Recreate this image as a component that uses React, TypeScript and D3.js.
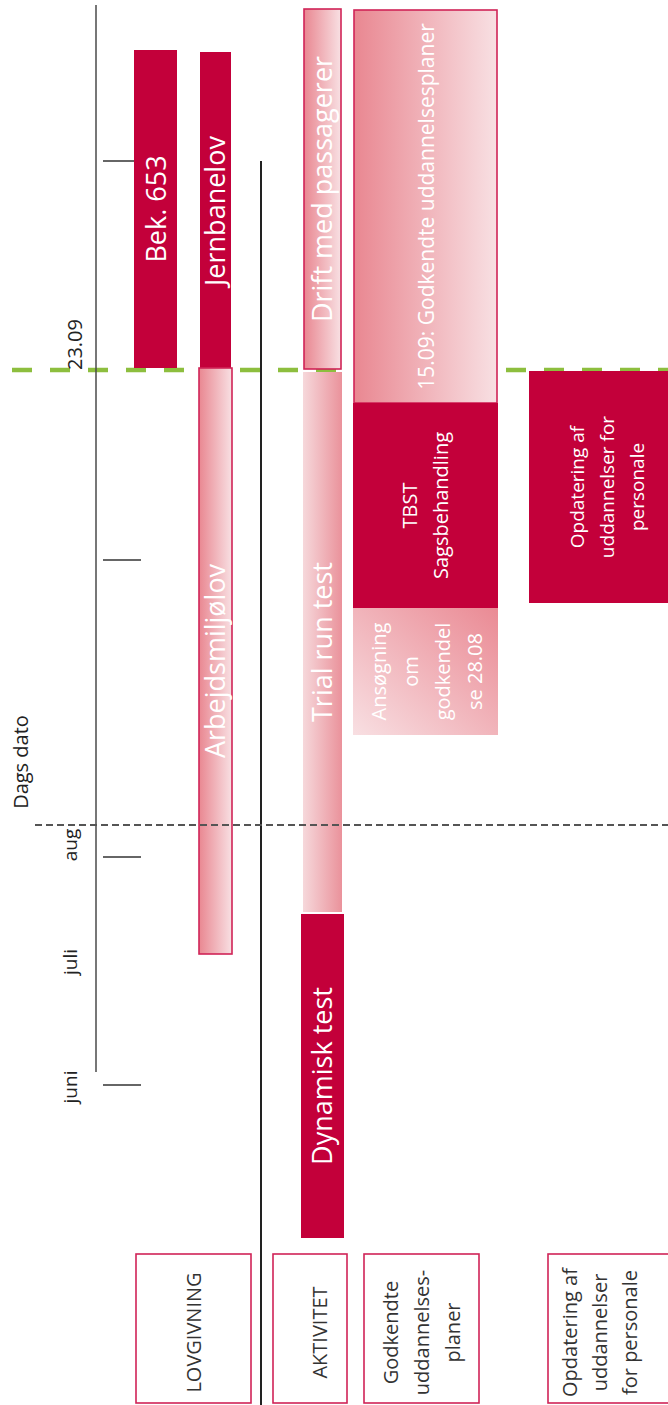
import React from "react";
import * as d3 from "d3";

// ---------------- DATA ----------------
// Time is an abstract schedule position (the reference timeline is schematic)
const monthLabels = ["juni", "juli", "aug"];
const monthLabelPos = [15.8, 28.3, 40.0];
const tickPos = [16.0, 38.8, 68.5, 108.4];
const axisExtent = [17.3, 124.0];

const milestoneLabel = "23.09";
const milestonePos = 87.5;
const todayLabel = "Dags dato";
const todayPos = 42.0;

const laneKeys = ["bek", "jern", "akt", "godk", "opd"];

const taskNames = [
  "Bek. 653",
  "Jernbanelov",
  "Arbejdsmiljølov",
  "Drift med passagerer",
  "Trial run test",
  "Dynamisk test",
  "15.09: Godkendte uddannelsesplaner",
  "TBST\nSagsbehandling",
  "Ansøgning\nom\ngodkendel\nse 28.08",
  "Opdatering af\nuddannelser for\npersonale",
];
const taskLane = ["bek", "jern", "jern", "akt", "akt", "akt", "godk", "godk", "godk", "opd"];
const taskStart = [87.7, 87.5, 29.1, 87.6, 33.3, 0.7, 84.2, 63.7, 51.0, 64.2];
const taskEnd = [119.5, 119.3, 87.7, 123.6, 87.3, 33.1, 123.5, 84.2, 63.7, 87.4];
const taskKind = ["solid", "solid", "fadeLR", "fadeLR", "fadeRL", "solid", "fadeLR", "solid", "fadeDiag", "solid"];

const headerNames = ["LOVGIVNING", "AKTIVITET", "Godkendte\nuddannelses-\nplaner", "Opdatering af\nuddannelser\nfor personale"];

// ---------------- LAYOUT / STYLE ----------------
const W = 668;
const H = 1405;
const FONT = "'Open Sans', 'Noto Sans', sans-serif";
const CRIMSON = "#C3003A";
const EDGE = "#D02457";

const laneSpans: [number, number][] = [
  [134, 177],
  [199, 232],
  [302, 343],
  [353, 498],
  [529, 686],
];
const taskFont = [27, 27, 27, 27, 27, 27, 21, 20, 20, 19];
const taskLineH = [0, 0, 0, 0, 0, 0, 0, 31, 32, 30];
const taskInset = [0, 1, 0, 2, 1, -1, 1, 0, 0, 0];
const taskTextDx = [1, 0, 0, 0, 0, 0, 1, 0, 1, 0];

const headerBoxes: [number, number][] = [
  [136, 251],
  [273, 347],
  [364, 479],
  [548, 720],
];
const headerTextX = [193.5, 319.5, 421.5, 600];
const headerTop = 1254;
const headerBottom = 1403;
const headerLineH = [0, 0, 31, 30];

function RotText(props: {
  cx: number;
  cy: number;
  text: string;
  size: number;
  lh?: number;
  fill: string;
  anchor?: string;
}) {
  const lines = props.text.split("\n");
  const n = lines.length;
  const lh = props.lh || props.size * 1.2;
  return (
    <text
      transform={`translate(${props.cx},${props.cy}) rotate(-90)`}
      textAnchor={props.anchor || "middle"}
      fontSize={props.size}
      fontFamily={FONT}
      fill={props.fill}
    >
      {lines.map((l, i) => (
        <tspan key={i} x={0} y={(i - (n - 1) / 2) * lh} dy="0.35em">
          {l}
        </tspan>
      ))}
    </text>
  );
}

export default function App() {
  const y = d3.scaleLinear().domain([0, 125]).range([1245, -5]);
  const laneX = d3.scaleOrdinal<string, [number, number]>().domain(laneKeys).range(laneSpans);

  const fillFor = (k: string) =>
    k === "solid" ? CRIMSON : k === "fadeLR" ? "url(#fadeLR)" : k === "fadeRL" ? "url(#fadeRL)" : "url(#fadeDiag)";

  const dash = d3.line<[number, number]>();

  return (
    <svg
      width={W}
      height={H}
      viewBox={`0 0 ${W} ${H}`}
      style={{ position: "absolute", left: 0, top: 0, display: "block", background: "#fff" }}
    >
      <defs>
        <linearGradient id="fadeLR" x1="0" y1="0" x2="1" y2="0">
          <stop offset="0" stopColor="#E98791" />
          <stop offset="1" stopColor="#F8E0E3" />
        </linearGradient>
        <linearGradient id="fadeRL" x1="0" y1="0" x2="1" y2="0">
          <stop offset="0" stopColor="#F6D8DB" />
          <stop offset="1" stopColor="#EA929B" />
        </linearGradient>
        <linearGradient id="fadeDiag" x1="0" y1="1" x2="1" y2="0">
          <stop offset="0" stopColor="#F8DFE2" />
          <stop offset="1" stopColor="#EA8A94" />
        </linearGradient>
      </defs>

      {/* milestone (green dashed) */}
      <path
        d={dash([
          [12, y(milestonePos)],
          [W, y(milestonePos)],
        ])!}
        stroke="#8DBE3E"
        strokeWidth={4.5}
        strokeDasharray="20 18"
        fill="none"
      />

      {/* time axis */}
      <line x1={96} x2={96} y1={y(axisExtent[1])} y2={y(axisExtent[0])} stroke="#4a4a4a" strokeWidth={1.5} />
      {tickPos.map((t, i) => (
        <line key={i} x1={103} x2={141} y1={y(t)} y2={y(t)} stroke="#333" strokeWidth={1.5} />
      ))}
      {monthLabels.map((m, i) => (
        <RotText key={m} cx={70} cy={y(monthLabelPos[i])} text={m} size={19} fill="#222" />
      ))}
      <RotText cx={75} cy={y(milestonePos)} text={milestoneLabel} size={20} fill="#222" anchor="start" />

      {/* lane separator */}
      <line x1={261} x2={261} y1={y(tickPos[3])} y2={H} stroke="#222" strokeWidth={2} />

      {/* tasks */}
      {taskNames.map((name, i) => {
        const [x0, x1] = laneX(taskLane[i]);
        const ins = taskInset[i];
        const top = y(taskEnd[i]);
        const bot = y(taskStart[i]);
        const stroked = taskKind[i] === "fadeLR";
        return (
          <g key={name}>
            <rect
              x={x0 + ins}
              y={top}
              width={x1 - x0 - 2 * ins}
              height={bot - top}
              fill={fillFor(taskKind[i])}
              stroke={stroked ? EDGE : "none"}
              strokeWidth={stroked ? 1.6 : 0}
            />
            <RotText
              cx={(x0 + x1) / 2 + taskTextDx[i]}
              cy={(top + bot) / 2}
              text={name}
              size={taskFont[i]}
              lh={taskLineH[i] || undefined}
              fill="#fff"
            />
          </g>
        );
      })}

      {/* today line */}
      <path
        d={dash([
          [35, y(todayPos)],
          [W, y(todayPos)],
        ])!}
        stroke="#555"
        strokeWidth={2}
        strokeDasharray="7 4"
        fill="none"
      />
      <RotText cx={21} cy={y(todayPos) - 63} text={todayLabel} size={20} fill="#222" />

      {/* headers */}
      {headerNames.map((h, i) => {
        const [x0, x1] = headerBoxes[i];
        return (
          <g key={h}>
            <rect
              x={x0}
              y={headerTop}
              width={x1 - x0}
              height={headerBottom - headerTop}
              fill="#fff"
              stroke={EDGE}
              strokeWidth={1.6}
            />
            <RotText
              cx={headerTextX[i]}
              cy={(headerTop + headerBottom) / 2 + 4}
              text={h}
              size={20}
              lh={headerLineH[i] || undefined}
              fill="#333"
            />
          </g>
        );
      })}
    </svg>
  );
}
